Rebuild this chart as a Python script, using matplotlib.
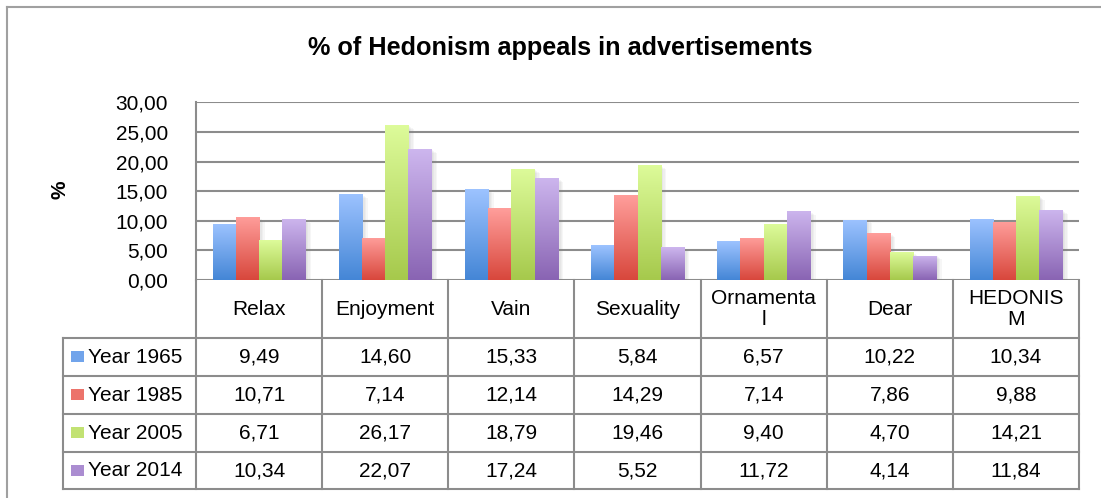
import numpy as np
import matplotlib
matplotlib.use('Agg')
import matplotlib.pyplot as plt
from matplotlib.lines import Line2D
from matplotlib.patches import Rectangle
from matplotlib.transforms import blended_transform_factory
import matplotlib.patheffects as pe
from matplotlib.colors import to_rgb

# ---------------- data ----------------
categories = ["Relax", "Enjoyment", "Vain", "Sexuality", "Ornamenta\nl", "Dear", "HEDONIS\nM"]
series_names = ["Year 1965", "Year 1985", "Year 2005", "Year 2014"]
year_1965 = [9.49, 14.60, 15.33, 5.84, 6.57, 10.22, 10.34]
year_1985 = [10.71, 7.14, 12.14, 14.29, 7.14, 7.86, 9.88]
year_2005 = [6.71, 26.17, 18.79, 19.46, 9.40, 4.70, 14.21]
year_2014 = [10.34, 22.07, 17.24, 5.52, 11.72, 4.14, 11.84]
y_ticks = [0, 5, 10, 15, 20, 25, 30]
title = "% of Hedonism appeals in advertisements"
y_label = "%"

series_values = [year_1965, year_1985, year_2005, year_2014]
top_colors = ['#9dc3ff', '#ff9e9b', '#ddfb9a', '#cdb6ee']
bottom_colors = ['#4486d6', '#d8473c', '#a6c94c', '#8964b3']

plt.rcParams['font.family'] = ['Liberation Sans', 'DejaVu Sans']

W, H = 1101, 498
fig = plt.figure(figsize=(W / 100, H / 100), dpi=100)
fig.patch.set_facecolor('white')

def fy(py):
    return 1 - py / H

def fx(px):
    return px / W

grid_col = '#8c8c8c'
font_size = 15

# axes
ax_left, ax_right, ax_top, ax_bottom = 196, 1079, 102.5, 280
ax = fig.add_axes([fx(ax_left), fy(ax_bottom), (ax_right - ax_left) / W, (ax_bottom - ax_top) / H])
ax.set_facecolor('white')

n_cat = len(categories)
n_ser = len(series_values)
x = np.arange(n_cat)
bar_w = 0.184

shadow = [pe.SimplePatchShadow(offset=(o, -o * 0.7), shadow_rgbFace='#888888', alpha=0.07)
          for o in (4, 3, 2, 1)] + [pe.Normal()]

for s, vals in enumerate(series_values):
    offs = (s - (n_ser - 1) / 2) * bar_w
    bars = ax.bar(x + offs, vals, width=bar_w, color=bottom_colors[s], linewidth=0, zorder=3)
    c_top = np.array(to_rgb(top_colors[s]))
    c_bot = np.array(to_rgb(bottom_colors[s]))
    grad = np.linspace(0, 1, 128)[:, None, None]
    img = c_top[None, None, :] * (1 - grad) + c_bot[None, None, :] * grad
    for p in bars:
        p.set_path_effects(shadow)
        x0, y0 = p.get_x(), p.get_y()
        w, h = p.get_width(), p.get_height()
        im = ax.imshow(img, extent=[x0, x0 + w, y0, y0 + h], aspect='auto', zorder=4,
                       interpolation='bilinear', origin='upper')
        im.set_clip_path(p)

ax.set_xlim(-0.5, n_cat - 0.5)
ax.set_ylim(0, 30)
ax.set_yticks(y_ticks)
ax.set_yticklabels([f"{t:.2f}".replace('.', ',') for t in y_ticks], fontsize=font_size)
ax.tick_params(axis='y', length=0, pad=20)
ax.set_xticks([])
ax.yaxis.grid(True, color=grid_col, linewidth=1.5, zorder=1)
ax.set_axisbelow(True)
for side in ['right', 'top', 'bottom']:
    ax.spines[side].set_visible(False)
ax.spines['left'].set_color(grid_col)
ax.spines['left'].set_linewidth(1.5)

# title & y label
fig.text(fx(560), fy(48), title, ha='center', va='center', fontsize=18.2, fontweight='bold')
fig.text(fx(60), fy(190), y_label, ha='center', va='center', fontsize=font_size, fontweight='bold', rotation=90)

# outer frame
frame_col = '#a0a0a0'
fig.add_artist(Line2D([fx(7), fx(W + 5)], [fy(7), fy(7)], color=frame_col, lw=1.5))
fig.add_artist(Line2D([fx(7), fx(7)], [fy(7), fy(H + 5)], color=frame_col, lw=1.5))

# data table
tr = blended_transform_factory(ax.transData, fig.transFigure)
tab_col = '#8c8c8c'
row_edges = [280, 338, 376, 414, 452, 489]
label_left = 63

for i, ry in enumerate(row_edges):
    if i == 0:
        continue
    fig.add_artist(Line2D([fx(label_left), fx(ax_right)], [fy(ry), fy(ry)], color=tab_col, lw=1.5))
for k in range(n_cat + 1):
    fig.add_artist(Line2D([k - 0.5, k - 0.5], [fy(row_edges[0]), fy(row_edges[-1])],
                          transform=tr, color=tab_col, lw=1.5))
fig.add_artist(Line2D([fx(label_left), fx(label_left)], [fy(row_edges[1]), fy(row_edges[-1])],
                      color=tab_col, lw=1.5))

hy = (row_edges[0] + row_edges[1]) / 2
for k, c in enumerate(categories):
    fig.text(k, fy(hy), c, transform=tr, ha='center', va='center', fontsize=font_size, linespacing=1.1)

for s, (name, vals) in enumerate(zip(series_names, series_values)):
    cy = (row_edges[s + 1] + row_edges[s + 2]) / 2
    mid = (np.array(to_rgb(top_colors[s])) + np.array(to_rgb(bottom_colors[s]))) / 2
    fig.add_artist(Rectangle((fx(71), fy(cy + 5)), 13 / W, 11 / H, facecolor=mid, edgecolor='none'))
    fig.text(fx(88), fy(cy), name, ha='left', va='center', fontsize=font_size)
    for k, v in enumerate(vals):
        fig.text(k, fy(cy), f"{v:.2f}".replace('.', ','), transform=tr, ha='center', va='center',
                 fontsize=font_size)

fig.savefig('out.png', dpi=100, facecolor='white')
